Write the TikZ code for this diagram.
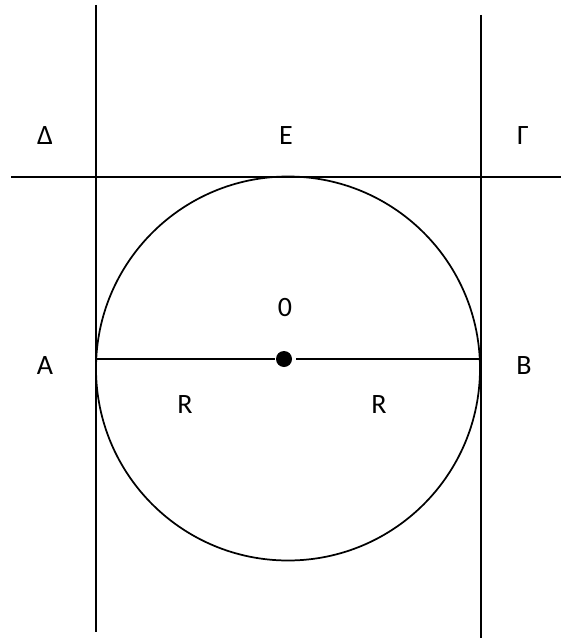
\documentclass[tikz,border=0pt]{standalone}
\usepackage{fontspec}
\setmainfont{Carlito}
\usetikzlibrary{calc}

\begin{document}
\begin{tikzpicture}[x=0.75pt, y=-0.75pt, line width=1.5pt,
    lbl/.style={font=\fontsize{21}{25}\selectfont, inner sep=0pt}]
    \useasboundingbox (0,0) rectangle (561,638);
    \coordinate (L1) at (96,5);
    \coordinate (L2) at (96,632);
    \coordinate (R1) at (481,15);
    \coordinate (R2) at (481,638);
    \coordinate (T1) at (11,177);
    \coordinate (T2) at (561,177);
    \coordinate (A) at (96,359);
    \coordinate (B) at (480,359);
    \coordinate (C) at (288,368.5);
    % tangent lines
    \draw (L1) -- (L2);
    \draw (R1) -- (R2);
    \draw (T1) -- (T2);
    % circle
    \draw[line width=1.3pt] (C) circle (192);
    % diameter
    \node[circle, fill, inner sep=0pt, minimum size=12pt] (O) at (284,359) {};
    \draw (A) -- (O);
    \draw[shorten <=2.5pt] (O) -- (B);
    % labels
    \node[lbl] (lD) at (45,136) {Δ};
    \node[lbl] (lE) at (286,136) {Ε};
    \node[lbl] (lG) at (523,136) {Γ};
    \node[lbl] (lO) at (285,308) {0};
    \node[lbl] (lA) at (45,366) {Α};
    \node[lbl] (lB) at (524,366) {Β};
    \node[lbl] (lR1) at (185,405) {R};
    \node[lbl] (lR2) at (379,405) {R};
\end{tikzpicture}
\end{document}
